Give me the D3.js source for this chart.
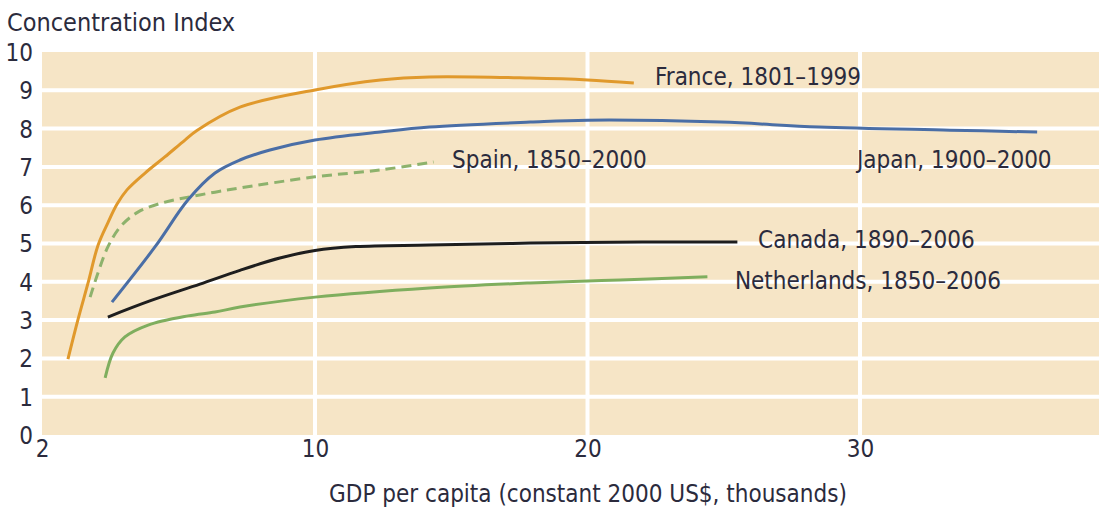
<!DOCTYPE html>
<html>
<head>
<meta charset="utf-8">
<script src="https://cdn.jsdelivr.net/npm/d3@7"></script>
<style>
  body { margin: 0; background: #fff; }
  text { font-family: "DejaVu Sans Condensed", "DejaVu Sans", sans-serif; font-stretch: condensed; fill: #2b2b3d; }
</style>
</head>
<body>
<svg id="chart" width="1099" height="514"></svg>
<script>
// Data ------------------------------------------------------------------------------------------------------
// GDP per capita (thousands) and concentration index
const franceX = [2.76, 3.05, 3.35, 3.64, 3.93, 4.20, 4.49, 5.02, 5.60, 6.19, 6.54, 7.80, 10, 12.4, 14.2, 17.9, 20.0, 21.7];
const franceY = [1.98, 3.00, 3.97, 4.95, 5.54, 6.03, 6.40, 6.84, 7.26, 7.70, 7.95, 8.56, 9.01, 9.27, 9.35, 9.32, 9.27, 9.19];

const spainX = [3.41, 3.64, 3.93, 4.29, 4.81, 5.52, 6.28, 7.07, 7.80, 10, 12.4, 14.35];
const spainY = [3.60, 4.23, 4.91, 5.43, 5.82, 6.06, 6.21, 6.34, 6.45, 6.74, 6.92, 7.13];

const japanX = [4.05, 5.31, 6.28, 7.07, 7.80, 8.68, 10, 12.4, 14.2, 17.9, 20.0, 24.9, 28.5, 33.3, 36.5];
const japanY = [3.47, 4.91, 6.14, 6.84, 7.18, 7.44, 7.70, 7.91, 8.04, 8.17, 8.22, 8.17, 8.04, 7.96, 7.91];

const canadaX = [3.93, 5.16, 6.63, 7.80, 8.97, 10, 11.5, 14.2, 17.9, 22.0, 25.5];
const canadaY = [3.08, 3.50, 3.94, 4.30, 4.62, 4.82, 4.92, 4.96, 5.01, 5.04, 5.04];

const nethX = [3.85, 4.08, 4.43, 5.11, 6.28, 7.07, 7.80, 10, 14.2, 17.9, 21.2, 24.4];
const nethY = [1.49, 2.14, 2.56, 2.87, 3.11, 3.21, 3.34, 3.60, 3.84, 3.97, 4.05, 4.13];

const seriesNames = ["France, 1801\u20131999", "Spain, 1850\u20132000", "Japan, 1900\u20132000", "Canada, 1890\u20132006", "Netherlands, 1850\u20132006"];
const xTicks = [2, 10, 20, 30];
const yTicks = [0, 1, 2, 3, 4, 5, 6, 7, 8, 9, 10];

// Layout ----------------------------------------------------------------------------------------------------
const plot = {left: 42, right: 1099, top: 52, bottom: 435};

const svg = d3.select("#chart");

// the original axis squeezes 2-10 into one decade-width step
const x = d3.scaleLinear()
.domain([2, 10, 38.77])
.range([plot.left, 315, plot.right]);

const y = d3.scaleLinear()
.domain([0, 10])
.range([plot.bottom, plot.top]);

// Background
svg.append("rect")
.attr("x", plot.left)
.attr("y", plot.top)
.attr("width", plot.right - plot.left)
.attr("height", plot.bottom - plot.top)
.attr("fill", "#f6e5c6");

// Grid
svg.append("g")
.selectAll("line.h")
.data(yTicks.filter(d => d > 0 && d < 10))
.join("line")
.attr("x1", plot.left)
.attr("x2", plot.right)
.attr("y1", d => y(d))
.attr("y2", d => y(d))
.attr("stroke", "#fff")
.attr("stroke-width", 4);

svg.append("g")
.selectAll("line.v")
.data(xTicks.filter(d => d > 2))
.join("line")
.attr("x1", d => x(d))
.attr("x2", d => x(d))
.attr("y1", plot.top)
.attr("y2", plot.bottom)
.attr("stroke", "#fff")
.attr("stroke-width", 4);

// Axes ------------------------------------------------------------------------------------------------------
const yAxis = svg.append("g")
.attr("transform", `translate(${plot.left},0)`)
.call(d3.axisLeft(y).tickValues(yTicks).tickSize(0).tickPadding(9));
yAxis.select(".domain").remove();
yAxis.selectAll("text")
.attr("font-size", 24)
.attr("dy", "0.35em")
.style("font-family", null);

const xAxis = svg.append("g")
.attr("transform", `translate(0,${plot.bottom})`)
.call(d3.axisBottom(x).tickValues(xTicks).tickSize(0).tickPadding(5));
xAxis.select(".domain").remove();
xAxis.selectAll("text")
.attr("font-size", 24)
.style("font-family", null);

svg.append("text")
.attr("x", 7)
.attr("y", 31)
.attr("font-size", 25)
.text("Concentration Index");

svg.append("text")
.attr("x", 588)
.attr("y", 502)
.attr("text-anchor", "middle")
.attr("font-size", 24)
.text("GDP per capita (constant 2000 US$, thousands)");

// Lines -----------------------------------------------------------------------------------------------------
const line = d3.line()
.curve(d3.curveCatmullRom.alpha(0.5))
.x(d => x(d[0]))
.y(d => y(d[1]));

const series = [
  {xs: franceX, ys: franceY, color: "#e0992c", dash: null},
  {xs: spainX, ys: spainY, color: "#8db26c", dash: "10,6"},
  {xs: japanX, ys: japanY, color: "#4a6ea6", dash: null},
  {xs: canadaX, ys: canadaY, color: "#1e1e1e", dash: null},
  {xs: nethX, ys: nethY, color: "#7fae5e", dash: null}
];

svg.append("g")
.selectAll("path")
.data(series)
.join("path")
.attr("d", s => line(s.xs.map((v, i) => [v, s.ys[i]])))
.attr("fill", "none")
.attr("stroke", s => s.color)
.attr("stroke-width", 3)
.attr("stroke-dasharray", s => s.dash);

// Labels ----------------------------------------------------------------------------------------------------
const labelPos = [[22.48, 9.37], [15.03, 7.18], [29.89, 7.18], [26.26, 5.09], [25.41, 4.02]];

svg.append("g")
.selectAll("text")
.data(seriesNames)
.join("text")
.attr("x", (d, i) => x(labelPos[i][0]))
.attr("y", (d, i) => y(labelPos[i][1]))
.attr("dy", "0.35em")
.attr("font-size", 24)
.text(d => d);
</script>
</body>
</html>
